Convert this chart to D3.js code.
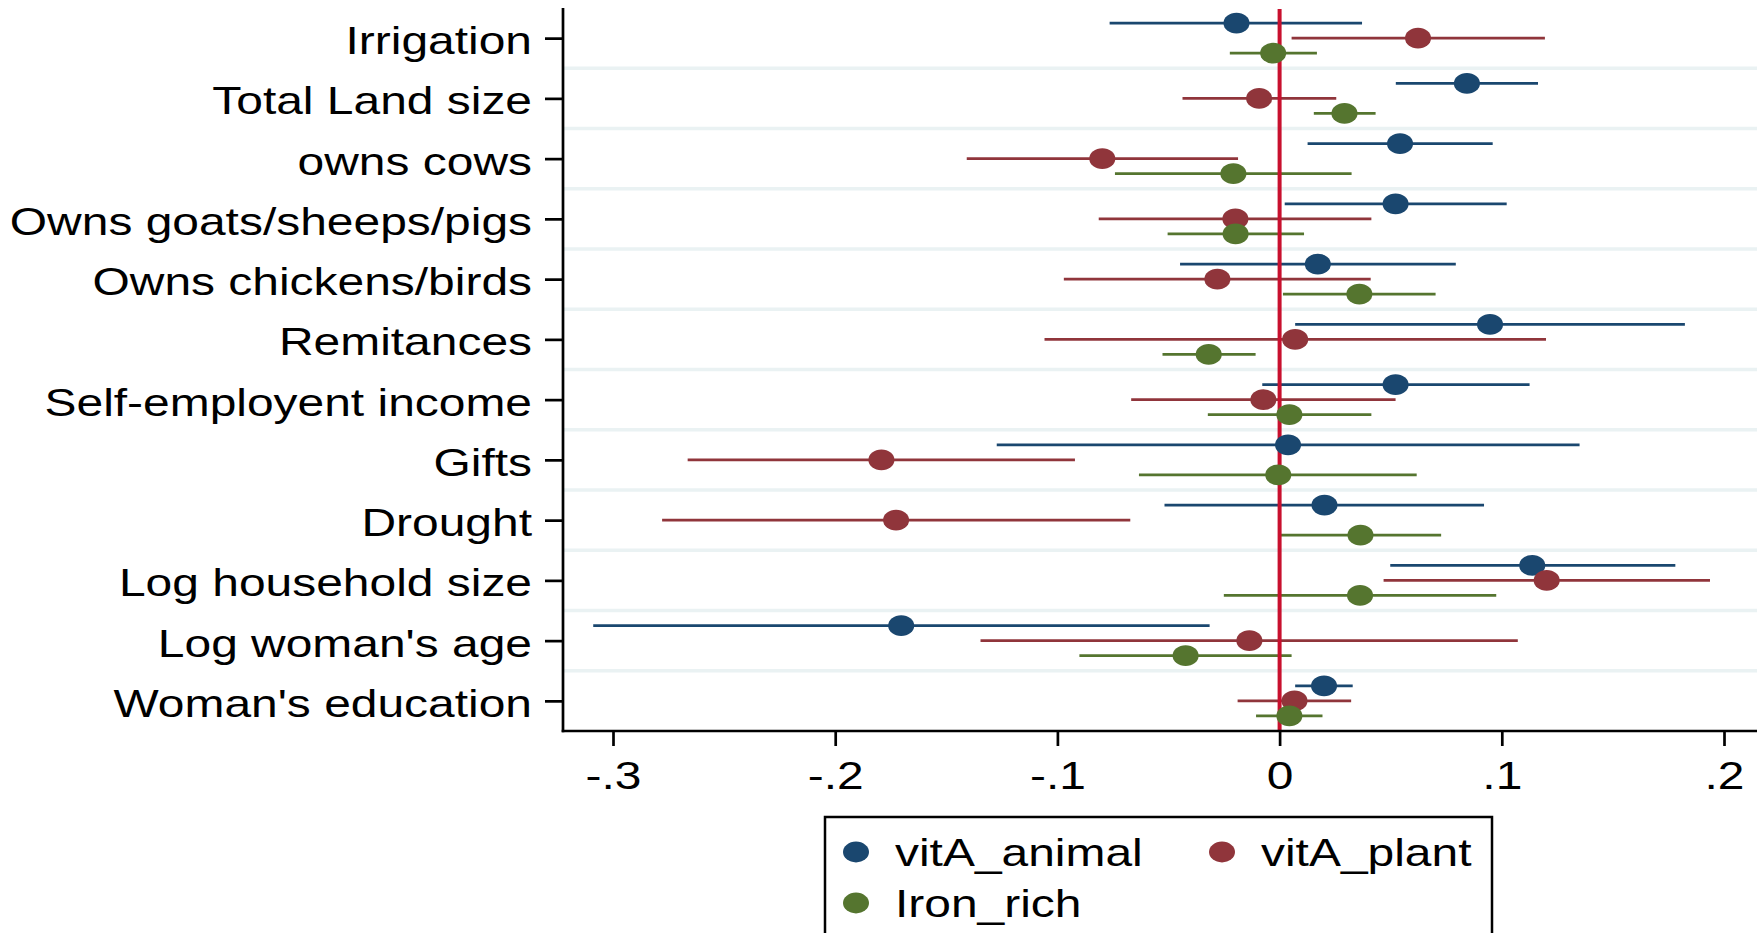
<!DOCTYPE html>
<html>
<head>
<meta charset="utf-8">
<script src="https://cdn.jsdelivr.net/npm/d3@7"></script>
<style>
  html, body { margin: 0; padding: 0; background: #ffffff; }
  svg { display: block; }
  text { font-family: "Liberation Sans", Arial, Helvetica, sans-serif; fill: #000; }
</style>
</head>
<body>
<svg id="chart" width="1764" height="933"></svg>
<script>
const categories = ["Irrigation", "Total Land size", "owns cows", "Owns goats/sheeps/pigs",
  "Owns chickens/birds", "Remitances", "Self-employent income", "Gifts", "Drought",
  "Log household size", "Log woman's age", "Woman's education"];

const seriesNames = ["vitA_animal", "vitA_plant", "Iron_rich"];

const vitA_animal_est = [-0.0194, 0.0843, 0.0542, 0.0522, 0.0172, 0.0947, 0.0522, 0.0038, 0.0202, 0.1137, -0.1703, 0.0200];
const vitA_animal_lo  = [-0.0765, 0.0523, 0.0126, 0.0023, -0.0448, 0.0070, -0.0078, -0.1273, -0.0518, 0.0498, -0.3089, 0.0070];
const vitA_animal_hi  = [0.0371, 0.1163, 0.0959, 0.1022, 0.0793, 0.1824, 0.1125, 0.1350, 0.0920, 0.1781, -0.0315, 0.0329];

const vitA_plant_est = [0.0623, -0.0092, -0.0798, -0.0199, -0.0280, 0.0070, -0.0073, -0.1792, -0.1726, 0.1202, -0.0136, 0.0067];
const vitA_plant_lo  = [0.0054, -0.0437, -0.1408, -0.0814, -0.0971, -0.1058, -0.0668, -0.2664, -0.2779, 0.0468, -0.1346, -0.0189];
const vitA_plant_hi  = [0.1194, 0.0255, -0.0187, 0.0413, 0.0410, 0.1199, 0.0522, -0.0921, -0.0672, 0.1937, 0.1072, 0.0322];

const iron_rich_est = [-0.0029, 0.0292, -0.0208, -0.0198, 0.0359, -0.0319, 0.0044, -0.0006, 0.0364, 0.0362, -0.0423, 0.0044];
const iron_rich_lo  = [-0.0224, 0.0154, -0.0741, -0.0504, 0.0015, -0.0527, -0.0323, -0.0633, 0.0005, -0.0251, -0.0901, -0.0106];
const iron_rich_hi  = [0.0168, 0.0432, 0.0324, 0.0110, 0.0702, -0.0108, 0.0413, 0.0617, 0.0727, 0.0975, 0.0054, 0.0193];

const tickValues = [-0.3, -0.2, -0.1, 0, 0.1, 0.2];
const tickLabels = ["-.3", "-.2", "-.1", "0", ".1", ".2"];

// ---- styling / layout ----
const colors = ["#1a476f", "#90353b", "#55752f"];
const SX = 1.245;          // horizontal text stretch of the original
const FONT = 38.5;
const plotLeft = 563, plotRight = 1757, plotTop = 8, plotBottom = 731;

const svg = d3.select("#chart");
svg.append("rect").attr("width", 1764).attr("height", 933).attr("fill", "#fff");

const x = d3.scaleLinear().domain([-0.3, 0.2]).range([613, 1724]);
const y = d3.scalePoint().domain(categories).range([plotTop, plotBottom]).padding(0.5);
const step = y.step();
const offsets = [-15, 0, 15];

const series = [
  {name: seriesNames[0], est: vitA_animal_est, lo: vitA_animal_lo, hi: vitA_animal_hi},
  {name: seriesNames[1], est: vitA_plant_est,  lo: vitA_plant_lo,  hi: vitA_plant_hi},
  {name: seriesNames[2], est: iron_rich_est,   lo: iron_rich_lo,   hi: iron_rich_hi}
];

// separators between categories
svg.append("g").selectAll("line")
  .data(categories.slice(0, -1))
  .join("line")
  .attr("x1", plotLeft + 1).attr("x2", plotRight)
  .attr("y1", d => y(d) + step / 2).attr("y2", d => y(d) + step / 2)
  .attr("stroke", "#eaf2f3").attr("stroke-width", 3.5);

// CI lines
series.forEach((s, si) => {
  svg.append("g").selectAll("line")
    .data(categories)
    .join("line")
    .attr("x1", (d, i) => x(s.lo[i])).attr("x2", (d, i) => x(s.hi[i]))
    .attr("y1", d => y(d) + offsets[si]).attr("y2", d => y(d) + offsets[si])
    .attr("stroke", colors[si]).attr("stroke-width", 2.8);
});

// reference line at zero
svg.append("line")
  .attr("x1", x(0)).attr("x2", x(0))
  .attr("y1", plotTop + 1).attr("y2", plotBottom)
  .attr("stroke", "#c8102e").attr("stroke-width", 4);

// point estimates
series.forEach((s, si) => {
  svg.append("g").selectAll("ellipse")
    .data(categories)
    .join("ellipse")
    .attr("cx", (d, i) => x(s.est[i]))
    .attr("cy", d => y(d) + offsets[si])
    .attr("rx", 13).attr("ry", 10.4)
    .attr("fill", colors[si]);
});

// y axis
const yAxis = svg.append("g")
  .attr("transform", `translate(${plotLeft},0)`)
  .call(d3.axisLeft(y).tickSize(18).tickSizeOuter(0));
yAxis.select(".domain").remove();
yAxis.selectAll(".tick line").attr("stroke", "#000").attr("stroke-width", 2.7);
yAxis.selectAll(".tick text")
  .attr("x", -31 / SX).attr("dy", null).attr("y", 15.5)
  .attr("transform", `scale(${SX},1)`)
  .attr("text-anchor", "end")
  .style("font-size", FONT + "px")
  .style("font-family", '"Liberation Sans", Arial, sans-serif')
  .attr("fill", "#000");
svg.append("line")
  .attr("x1", plotLeft).attr("x2", plotLeft)
  .attr("y1", plotTop).attr("y2", plotBottom + 1.3)
  .attr("stroke", "#000").attr("stroke-width", 2.7);

// x axis
const xAxis = svg.append("g")
  .attr("transform", `translate(0,${plotBottom})`)
  .call(d3.axisBottom(x).tickValues(tickValues)
    .tickFormat((d, i) => tickLabels[i]).tickSize(15).tickSizeOuter(0));
xAxis.select(".domain").remove();
xAxis.selectAll(".tick line").attr("stroke", "#000").attr("stroke-width", 2.7);
xAxis.selectAll(".tick text")
  .attr("dy", null).attr("y", 58)
  .attr("transform", `scale(${SX},1)`)
  .attr("text-anchor", "middle")
  .style("font-size", FONT + "px")
  .style("font-family", '"Liberation Sans", Arial, sans-serif')
  .attr("fill", "#000");
svg.append("line")
  .attr("x1", plotLeft - 1.3).attr("x2", plotRight)
  .attr("y1", plotBottom).attr("y2", plotBottom)
  .attr("stroke", "#000").attr("stroke-width", 2.7);

// legend
const legend = svg.append("g");
legend.append("rect")
  .attr("x", 825).attr("y", 817).attr("width", 667).attr("height", 140)
  .attr("fill", "#fff").attr("stroke", "#000").attr("stroke-width", 2.5);
const legendPos = [
  {cx: 856, cy: 852, tx: 895, ty: 865.5},
  {cx: 1222, cy: 852, tx: 1261, ty: 865.5},
  {cx: 856, cy: 903, tx: 895, ty: 917}
];
const items = legend.selectAll("g.item")
  .data(seriesNames)
  .join("g").attr("class", "item");
items.append("ellipse")
  .attr("cx", (d, i) => legendPos[i].cx).attr("cy", (d, i) => legendPos[i].cy)
  .attr("rx", 13).attr("ry", 10.4)
  .attr("fill", (d, i) => colors[i]);
items.append("text")
  .attr("transform", (d, i) => `translate(${legendPos[i].tx},${legendPos[i].ty}) scale(${SX},1)`)
  .style("font-size", FONT + "px")
  .text(d => d);
</script>
</body>
</html>
